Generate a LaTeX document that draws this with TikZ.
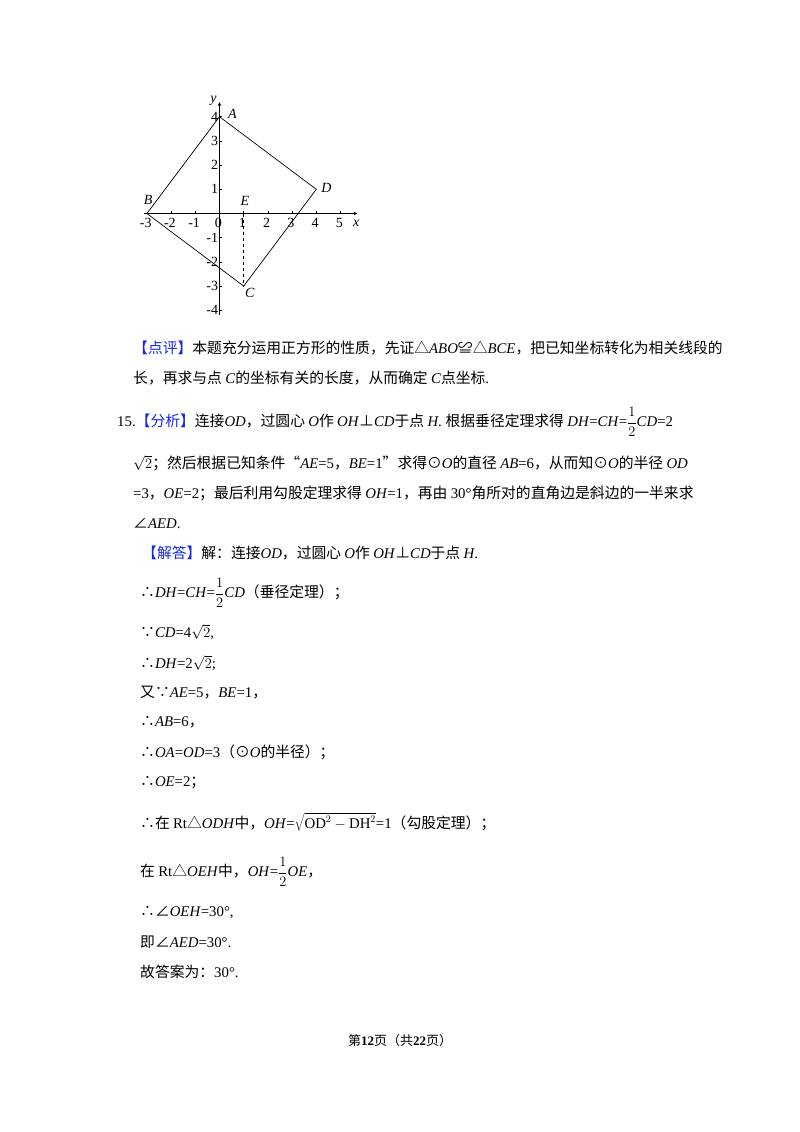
\documentclass[tikz,border=0pt]{standalone}
\usepackage{fontspec}
\setmainfont{Liberation Serif}
\newfontfamily\Z{Noto Sans CJK SC}
\newcommand\I[1]{\textit{#1}}
\newcommand\hf{{\displaystyle\frac{1}{2}}}
\definecolor{kblue}{RGB}{20,40,230}
\begin{document}
\begin{tikzpicture}[x=1pt,y=-1pt,
  ln/.style={anchor=west,inner sep=0pt,font=\fontsize{14.8}{18}\selectfont},
  tk/.style={font=\fontsize{14}{16}\selectfont,inner sep=1pt},
  pl/.style={font=\fontsize{14}{16}\selectfont\itshape,inner sep=1pt}]
\useasboundingbox (0,0) rectangle (800,1132);
% graph
\begin{scope}[shift={(219.5,213.5)},x=24.2pt,y=24.2pt,line width=0.7pt]
\draw[-stealth] (-3.1,0) -- (5.7,0);
\draw[-stealth] (0,-4.2) -- (0,4.6);
\foreach \i in {-2,-1,1,2,3,4,5} \draw (\i,0) -- (\i,0.12);
\foreach \i in {-4,-3,-2,-1,1,2,3,4} \draw (0,\i) -- (0.12,\i);
\foreach \i in {-3,-2,-1,0,1,2,3,4,5} \node[tk] (x\i) at (\i-0.05,-0.4) {\i};
\foreach \i in {-4,-3,-2,-1,1,2,3,4} \node[tk,anchor=east] (y\i) at (0,\i) {\i};
\node[pl] (xl) at (5.65,-0.4) {x};
\node[pl] (yl) at (-0.25,4.65) {y};
\coordinate (A) at (0,4); \coordinate (B) at (-3,0);
\coordinate (C) at (1,-3); \coordinate (D) at (4,1); \coordinate (E) at (1,0);
\draw (A) -- (B) -- (C) -- (D) -- cycle;
\draw[dashed] (E) -- (C);
\node[pl,anchor=west] (lA) at (0.3,4.1) {A};
\node[pl] (lB) at (-2.95,0.55) {B};
\node[pl,anchor=north west] (lC) at (1,-3.05) {C};
\node[pl,anchor=west] (lD) at (4.15,1.05) {D};
\node[pl] (lE) at (1.05,0.5) {E};
\end{scope}
% text
\node[ln] (t1) at (133,348) {{\Z\color{kblue}【点评】}{\Z 本题充分运用正方形的性质，先证△}\I{ABO}{\Z ≌△}\I{BCE}{\Z ，把已知坐标转化为相关线段的}};
\node[ln] (t2) at (133,378) {{\Z 长，再求与点 }\I{C}{\Z 的坐标有关的长度，从而确定 }\I{C}{\Z 点坐标}.};
\node[ln] (t3) at (117,422) {15.{\Z\color{kblue}【分析】}{\Z 连接}\I{OD}{\Z ，过圆心 }\I{O}{\Z 作 }\I{OH}{\Z ⊥}\I{CD}{\Z 于点 }\I{H}. {\Z 根据垂径定理求得 }\I{DH}=\I{CH}=$\hf$\I{CD}=2};
\node[ln] (t4) at (133,463) {$\sqrt{2}${\Z ；然后根据已知条件“}\I{AE}=5{\Z ，}\I{BE}=1{\Z ”求得⊙}\I{O}{\Z 的直径 }\I{AB}=6{\Z ，从而知⊙}\I{O}{\Z 的半径 }\I{OD}};
\node[ln] (t5) at (133,493) {=3{\Z ，}\I{OE}=2{\Z ；最后利用勾股定理求得 }\I{OH}=1{\Z ，再由 }30°{\Z 角所对的直角边是斜边的一半来求}};
\node[ln] (t6) at (133,523) {{\Z ∠}\I{AED}.};
\node[ln] (t7) at (142,553) {{\Z\color{kblue}【解答】}{\Z 解：连接}\I{OD}{\Z ，过圆心 }\I{O}{\Z 作 }\I{OH}{\Z ⊥}\I{CD}{\Z 于点 }\I{H}.};
\node[ln] (t8) at (140,593) {{\Z ∴}\I{DH}=\I{CH}=$\hf$\I{CD}{\Z （垂径定理）；}};
\node[ln] (t9) at (140,632) {{\Z ∵}\I{CD}=4$\sqrt{2}$,};
\node[ln] (t10) at (140,663) {{\Z ∴}\I{DH}=2$\sqrt{2}$;};
\node[ln] (t11) at (140,693) {{\Z 又∵}\I{AE}=5{\Z ，}\I{BE}=1{\Z ，}};
\node[ln] (t12) at (140,722) {{\Z ∴}\I{AB}=6{\Z ，}};
\node[ln] (t13) at (140,752) {{\Z ∴}\I{OA}=\I{OD}=3{\Z （⊙}\I{O}{\Z 的半径）；}};
\node[ln] (t14) at (140,783) {{\Z ∴}\I{OE}=2{\Z ；}};
\node[ln] (t15) at (140,822) {{\Z ∴在 }Rt{\Z △}\I{ODH}{\Z 中，}\I{OH}=$\sqrt{\mathrm{OD}^2-\mathrm{DH}^2}$=1{\Z （勾股定理）；}};
\node[ln] (t16) at (140,872) {{\Z 在 }Rt{\Z △}\I{OEH}{\Z 中，}\I{OH}=$\hf$\I{OE}{\Z ，}};
\node[ln] (t17) at (140,912) {{\Z ∴∠}\I{OEH}=30°,};
\node[ln] (t18) at (140,942) {{\Z 即∠}\I{AED}=30°.};
\node[ln] (t19) at (140,972) {{\Z 故答案为：}30°.};
\node[font=\fontsize{13}{15}\selectfont,inner sep=0pt] (ft) at (400,1041) {{\Z 第}\textbf{12}{\Z 页（共}\textbf{22}{\Z 页）}};
\end{tikzpicture}
\end{document}
